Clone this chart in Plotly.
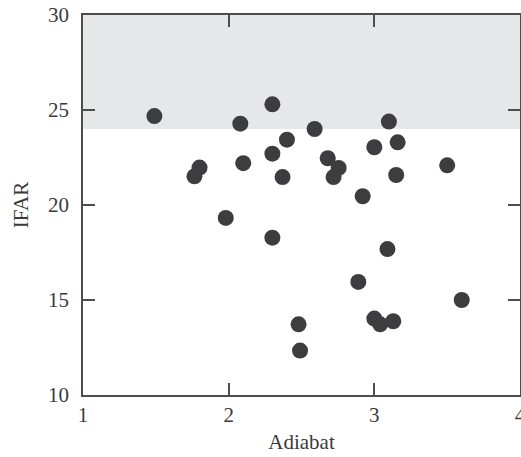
import plotly.graph_objects as go

adiabat = [1.49, 2.08, 1.80, 1.765, 2.10, 1.98,
           2.30, 2.59, 2.40, 2.30, 2.37, 2.68, 2.755, 2.72, 2.92,
           3.10, 3.00, 3.16, 3.15, 3.50,
           2.30, 3.09, 2.89, 3.60, 2.48, 2.49, 3.00, 3.04, 3.13]
ifar = [24.68, 24.28, 21.97, 21.51, 22.2, 19.32,
        25.3, 24.0, 23.44, 22.7, 21.47, 22.46, 21.95, 21.47, 20.46,
        24.39, 23.04, 23.3, 21.58, 22.09,
        18.28, 17.68, 15.95, 15.0, 13.72, 12.34, 14.02, 13.72, 13.88]

band_low, band_high = 24, 30
x_ticks = [1, 2, 3, 4]
y_ticks = [10, 15, 20, 25, 30]

axis_color = "#4d4d4f"
font = dict(family="Liberation Serif", size=21, color="#3a3a3c")

fig = go.Figure()
fig.add_shape(type="rect", xref="paper", yref="y", x0=0, x1=1,
              y0=band_low, y1=band_high, fillcolor="#e6e7e9",
              line=dict(width=0), layer="below")
fig.add_trace(go.Scatter(x=adiabat, y=ifar, mode="markers",
                         marker=dict(size=16, color="#3d3d3f",
                                     line=dict(width=0))))

axis_common = dict(showline=True, linecolor=axis_color, linewidth=1.5,
                   mirror="ticks", ticks="inside", ticklen=12,
                   tickwidth=1.5, tickcolor=axis_color, showgrid=False,
                   zeroline=False, tickfont=font, ticklabeloverflow="allow")

fig.update_xaxes(range=[1, 4], tickvals=x_ticks, ticklabelstandoff=0,
                 title=dict(text="Adiabat", font=font, standoff=8),
                 **axis_common)
fig.update_yaxes(range=[10, 30], tickvals=y_ticks, ticklabelstandoff=8,
                 title=dict(text="IFAR", font=font, standoff=14),
                 **axis_common)

fig.update_layout(width=521, height=457, showlegend=False,
                  paper_bgcolor="white", plot_bgcolor="white",
                  margin=dict(l=83, r=1, t=15, b=62, autoexpand=False),
                  font=font)

fig.write_html("out.html", config={"displayModeBar": False},
               post_script="document.body.style.margin='0';document.body.style.padding='0';")
